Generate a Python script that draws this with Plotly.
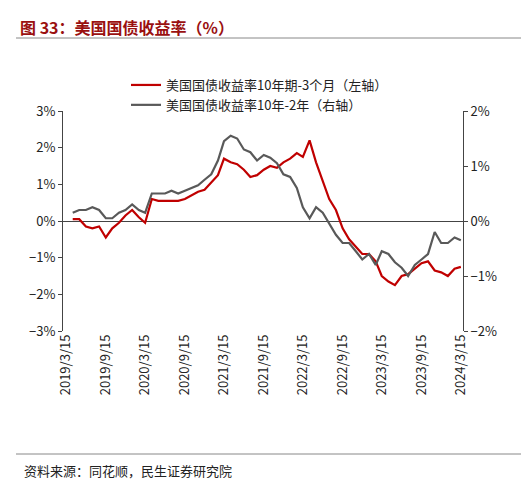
import plotly.graph_objects as go
import pandas as pd

dates = pd.date_range("2019-03-15", "2024-03-15", freq="MS") + pd.Timedelta(days=14)
dates = list(dates[:61])
# 10Y-3M spread (left axis), monthly
s10y3m = [0.05, 0.05, -0.15, -0.2, -0.15, -0.45, -0.2, -0.05, 0.15, 0.3, 0.1, -0.05,
          0.6, 0.55, 0.55, 0.55, 0.55, 0.6, 0.7, 0.8, 0.85, 1.05, 1.25, 1.7,
          1.6, 1.55, 1.4, 1.2, 1.25, 1.4, 1.5, 1.45, 1.6, 1.7, 1.85, 1.75,
          2.2, 1.6, 1.1, 0.6, 0.3, -0.2, -0.5, -0.7, -0.9, -0.9, -1.1, -1.5,
          -1.65, -1.75, -1.5, -1.45, -1.3, -1.15, -1.1, -1.35, -1.4, -1.5, -1.3, -1.25, -1.2]
# 10Y-2Y spread (right axis), monthly
s10y2y = [0.15, 0.2, 0.2, 0.25, 0.2, 0.05, 0.05, 0.15, 0.2, 0.3, 0.2, 0.15,
          0.5, 0.5, 0.5, 0.55, 0.5, 0.55, 0.6, 0.65, 0.75, 0.85, 1.1, 1.45,
          1.55, 1.5, 1.3, 1.25, 1.1, 1.2, 1.15, 1.05, 0.85, 0.8, 0.6, 0.25,
          0.05, 0.25, 0.15, -0.05, -0.25, -0.4, -0.4, -0.55, -0.7, -0.6, -0.8, -0.55,
          -0.6, -0.75, -0.85, -1.0, -0.8, -0.7, -0.6, -0.2, -0.4, -0.4, -0.3, -0.35, -0.4]

ticks = [pd.Timestamp(f"{y}-{m}-15") for y in range(2019, 2025) for m in (3, 9)][:11]

T, B, L, R = 103, 156, 55, 74
ph = 479 - T - B
pw = 529 - L - R
def py(pix):  # pixel y -> paper y
    return (479 - B - pix) / ph
def px(pix):
    return (pix - L) / pw

fig = go.Figure()
fig.add_trace(go.Scatter(x=dates, y=s10y3m, name="美国国债收益率10年期-3个月（左轴）",
                         line=dict(color="#c00000", width=2.2), yaxis="y"))
fig.add_trace(go.Scatter(x=dates, y=s10y2y, name="美国国债收益率10年-2年（右轴）",
                         line=dict(color="#595959", width=2.2), yaxis="y2"))
fig.update_layout(
    width=529, height=479, plot_bgcolor="white", paper_bgcolor="white",
    font=dict(family="Noto Sans CJK SC", size=13, color="#222"),
    margin=dict(l=L, r=R, t=T, b=B, autoexpand=False),
    showlegend=True,
    legend=dict(x=px(118), y=py(62), xanchor="left", yanchor="top", bgcolor="rgba(0,0,0,0)",
                font=dict(size=13), tracegroupgap=0),
    xaxis=dict(range=[pd.Timestamp("2019-03-01"), pd.Timestamp("2024-03-25")],
               tickvals=ticks, ticktext=[f"{t.year}/{t.month}/15" for t in ticks],
               tickangle=-90, showgrid=False, showline=False, ticks="", zeroline=False,
               automargin=False),
    yaxis=dict(range=[-3, 3], dtick=1, tickformat=".0f", ticksuffix="%", showgrid=False,
               showline=True, linecolor="#444", ticks="outside", ticklen=4,
               zeroline=True, zerolinecolor="#444", zerolinewidth=1, automargin=False),
    yaxis2=dict(range=[-2, 2], dtick=1, ticksuffix="%", overlaying="y", side="right",
                showgrid=False, showline=True, linecolor="#444", ticks="outside",
                ticklen=4, zeroline=False, automargin=False),
    annotations=[
        dict(text="<b>图 33：美国国债收益率（%）</b>", x=px(10), y=py(5), xref="paper", yref="paper",
             xanchor="left", yanchor="top", showarrow=False, font=dict(size=16, color="#9a1010")),
        dict(text="资料来源：同花顺，民生证券研究院", x=px(14), y=py(474), xref="paper", yref="paper",
             xanchor="left", yanchor="bottom", showarrow=False, font=dict(size=13, color="#222")),
    ],
    shapes=[
        dict(type="line", xref="paper", yref="paper", x0=px(8), x1=px(522), y0=py(30), y1=py(30),
             line=dict(color="#888", width=1)),
        dict(type="line", xref="paper", yref="paper", x0=px(8), x1=px(522), y0=py(446), y1=py(446),
             line=dict(color="#888", width=1)),
    ],
)
fig.write_html("out.html")
